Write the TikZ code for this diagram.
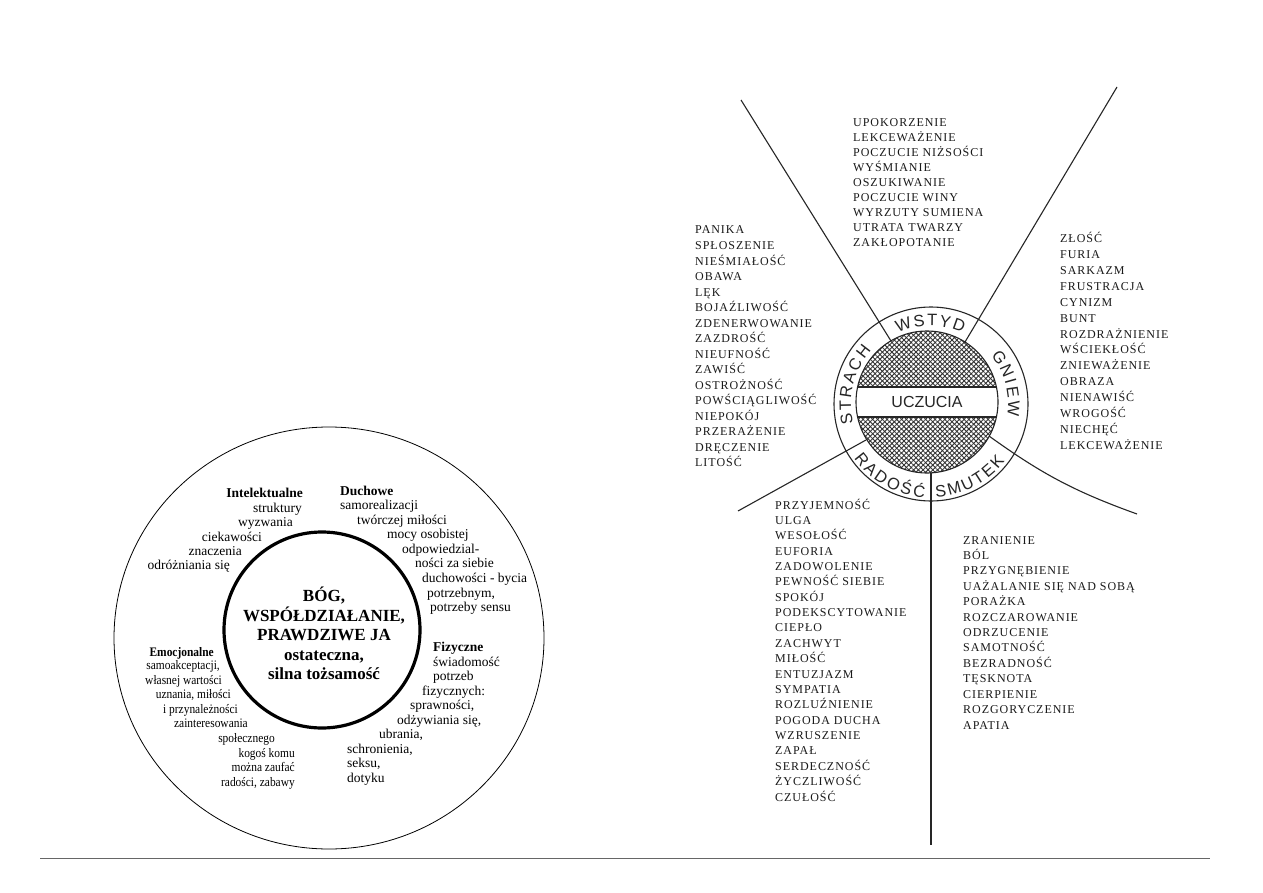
\documentclass[tikz,border=0pt]{standalone}
\usepackage{fontspec}
\setmainfont{Liberation Serif}
\newfontfamily\condfont[FakeStretch=0.88]{Liberation Serif}
\newfontfamily\scanfont[LetterSpace=8]{Liberation Serif}
\newfontfamily\ringfont{Liberation Sans}
\usetikzlibrary{patterns.meta,decorations.text,calc}
\begin{document}
\begin{tikzpicture}[x=1pt,y=1pt,
  lt/.style={inner sep=0pt, font=\fontsize{13.5}{15}\selectfont},
  lw/.style={lt, anchor=base west},
  le/.style={lt, anchor=base east},
  em/.style={inner sep=0pt, anchor=base east, font=\condfont\fontsize{13}{14}\selectfont},
  hdb/.style={font=\bfseries\fontsize{13.5}{15}\selectfont},
  ct/.style={inner sep=0pt, anchor=base, font=\bfseries\fontsize{17}{19}\selectfont},
  rt/.style={inner sep=0pt, anchor=base west, text=black!90, font=\scanfont\fontsize{12}{13}\selectfont},
  sc/.style={draw=black!85, line width=1.1pt},
  ringtxt/.style={decorate, decoration={text along path, text align=fit to path, text={|\ringfont\fontsize{16.5}{16.5}\selectfont\color{black!85}|#1}}}
]
\fill[white] (0,0) rectangle (1263,-893);
\path[use as bounding box] (0,0) rectangle (1263,-893);

% ---------- left diagram ----------
\coordinate (oc) at (329,-638);
\coordinate (icl) at (322,-630);
\draw[line width=0.8pt] (oc) circle[x radius=215, y radius=211];
\draw[line width=3.2pt] (icl) circle[radius=98];

\node[ct] (c1) at (324,-601) {BÓG,};
\node[ct] (c2) at (324,-621) {WSPÓŁDZIAŁANIE,};
\node[ct] (c3) at (324,-640) {PRAWDZIWE JA};
\node[ct] (c4) at (324,-660) {ostateczna,};
\node[ct] (c5) at (324,-679) {silna tożsamość};

% Intelektualne
\node[le, hdb] (i0) at (303,-497) {Intelektualne};
\foreach \x/\y/\t [count=\i] in {302/512/{struktury}, 293/526/{wyzwania}, 262/541/{ciekawości}, 242/555/{znaczenia}, 230/569/{odróżniania się}}
  \node[le] (i\i) at (\x,-\y) {\t};

% Duchowe
\node[lw, hdb] (d0) at (340,-495) {Duchowe};
\foreach \x/\y/\t [count=\i] in {340/509/{samorealizacji}, 357/524/{twórczej miłości}, 387/538/{mocy osobistej}, 402/553/{odpowiedzial-}, 415/567/{ności za siebie}, 422/582/{duchowości - bycia}, 427/597/{potrzebnym,}, 430/611/{potrzeby sensu}}
  \node[lw] (d\i) at (\x,-\y) {\t};

% Emocjonalne
\node[em, font=\condfont\bfseries\fontsize{13}{14}\selectfont] (e0) at (214,-656) {Emocjonalne};
\foreach \x/\y/\t [count=\i] in {220/669/{samoakceptacji,}, 222/684/{własnej wartości}, 231/698/{uznania, miłości}, 238/713/{i przynależności}, 248/727/{zainteresowania}, 275/742/{społecznego}, 295/757/{kogoś komu}, 295/771/{można zaufać}, 295/786/{radości, zabawy}}
  \node[em] (e\i) at (\x,-\y) {\t};

% Fizyczne
\node[lw, hdb] (f0) at (433,-651) {Fizyczne};
\foreach \x/\y/\t [count=\i] in {433/666/{świadomość}, 433/680/{potrzeb}, 422/695/{fizycznych:}, 410/709/{sprawności,}, 397/724/{odżywiania się,}, 379/738/{ubrania,}, 347/753/{schronienia,}, 347/767/{seksu,}, 347/782/{dotyku}}
  \node[lw] (f\i) at (\x,-\y) {\t};

% bottom rule
\coordinate (b1) at (40,-858);
\coordinate (b2) at (1210,-858);
\draw[black!60, line width=0.8pt] (b1) -- (b2);

% ---------- right diagram ----------
\coordinate (ro) at (931,-404);
\coordinate (ri) at (927,-402);

\begin{scope}
  \clip (ri) circle[radius=71];
  \fill[pattern={Lines[angle=45, distance=3.4pt, line width=0.9pt]}, pattern color=black!80] (850,-325) rectangle (1005,-480);
  \fill[pattern={Lines[angle=-45, distance=3.4pt, line width=0.9pt]}, pattern color=black!80] (850,-325) rectangle (1005,-480);
  \fill[white] (850,-387) rectangle (1005,-417);
  \draw[sc] (850,-387) -- (1005,-387);
  \draw[sc] (850,-417) -- (1005,-417);
\end{scope}
\draw[sc] (ri) circle[radius=71];
\draw[sc] (ro) circle[radius=97];
\node[font=\ringfont\fontsize{16}{16}\selectfont, text=black!85] (uc) at (927,-402) {UCZUCIA};

% radial lines
\coordinate (p1a) at (891,-341); \coordinate (p1b) at (741,-100);
\coordinate (p2a) at (965,-342); \coordinate (p2b) at (1117,-87);
\coordinate (p3a) at (989,-436); \coordinate (p3b) at (1137,-514);
\coordinate (p4a) at (931,-473); \coordinate (p4b) at (931,-845);
\coordinate (p5a) at (866,-440); \coordinate (p5b) at (738,-511);
\draw[sc] (p1a) -- (p1b);
\draw[sc] (p2a) -- (p2b);
\draw[sc] (p3a) to[bend right=8] (p3b);
\draw[sc] (p4a) -- (p4b);
\draw[sc] (p5a) -- (p5b);

% ring labels
\path[ringtxt=WSTYD] ($(ro)+(115:78)$) arc[start angle=115, end angle=66, radius=78];
\path[ringtxt=GNIEW] ($(ro)+(39:77)$) arc[start angle=39, end angle=-9, radius=77];
\path[ringtxt=STRACH] ($(ro)+(194:80)$) arc[start angle=194, end angle=138, radius=80];
\path[ringtxt=RADOŚĆ] ($(ro)+(215:94)$) arc[start angle=215, end angle=266, radius=94];
\path[ringtxt=SMUTEK] ($(ro)+(273:93.5)$) arc[start angle=273, end angle=322, radius=93.5];

% word lists
\foreach \t [count=\i] in {UPOKORZENIE, LEKCEWAŻENIE, POCZUCIE NIŻSOŚCI, WYŚMIANIE, OSZUKIWANIE, POCZUCIE WINY, WYRZUTY SUMIENA, UTRATA TWARZY, ZAKŁOPOTANIE}
  \node[rt] (w\i) at (853,{-127-14.9*(\i-1)}) {\t};
\foreach \t [count=\i] in {PANIKA, SPŁOSZENIE, NIEŚMIAŁOŚĆ, OBAWA, LĘK, BOJAŹLIWOŚĆ, ZDENERWOWANIE, ZAZDROŚĆ, NIEUFNOŚĆ, ZAWIŚĆ, OSTROŻNOŚĆ, POWŚCIĄGLIWOŚĆ, NIEPOKÓJ, PRZERAŻENIE, DRĘCZENIE, LITOŚĆ}
  \node[rt] (s\i) at (695,{-234-15.53*(\i-1)}) {\t};
\foreach \t [count=\i] in {ZŁOŚĆ, FURIA, SARKAZM, FRUSTRACJA, CYNIZM, BUNT, ROZDRAŻNIENIE, WŚCIEKŁOŚĆ, ZNIEWAŻENIE, OBRAZA, NIENAWIŚĆ, WROGOŚĆ, NIECHĘĆ, LEKCEWAŻENIE}
  \node[rt] (g\i) at (1060,{-243-15.85*(\i-1)}) {\t};
\foreach \t [count=\i] in {PRZYJEMNOŚĆ, ULGA, WESOŁOŚĆ, EUFORIA, ZADOWOLENIE, PEWNOŚĆ SIEBIE, SPOKÓJ, PODEKSCYTOWANIE, CIEPŁO, ZACHWYT, MIŁOŚĆ, ENTUZJAZM, SYMPATIA, ROZLUŹNIENIE, POGODA DUCHA, WZRUSZENIE, ZAPAŁ, SERDECZNOŚĆ, ŻYCZLIWOŚĆ, CZUŁOŚĆ}
  \node[rt] (r\i) at (775,{-509-15.37*(\i-1)}) {\t};
\foreach \t [count=\i] in {ZRANIENIE, BÓL, PRZYGNĘBIENIE, UAŻALANIE SIĘ NAD SOBĄ, PORAŻKA, ROZCZAROWANIE, ODRZUCENIE, SAMOTNOŚĆ, BEZRADNOŚĆ, TĘSKNOTA, CIERPIENIE, ROZGORYCZENIE, APATIA}
  \node[rt] (m\i) at (963,{-544-15.42*(\i-1)}) {\t};
\end{tikzpicture}
\end{document}
